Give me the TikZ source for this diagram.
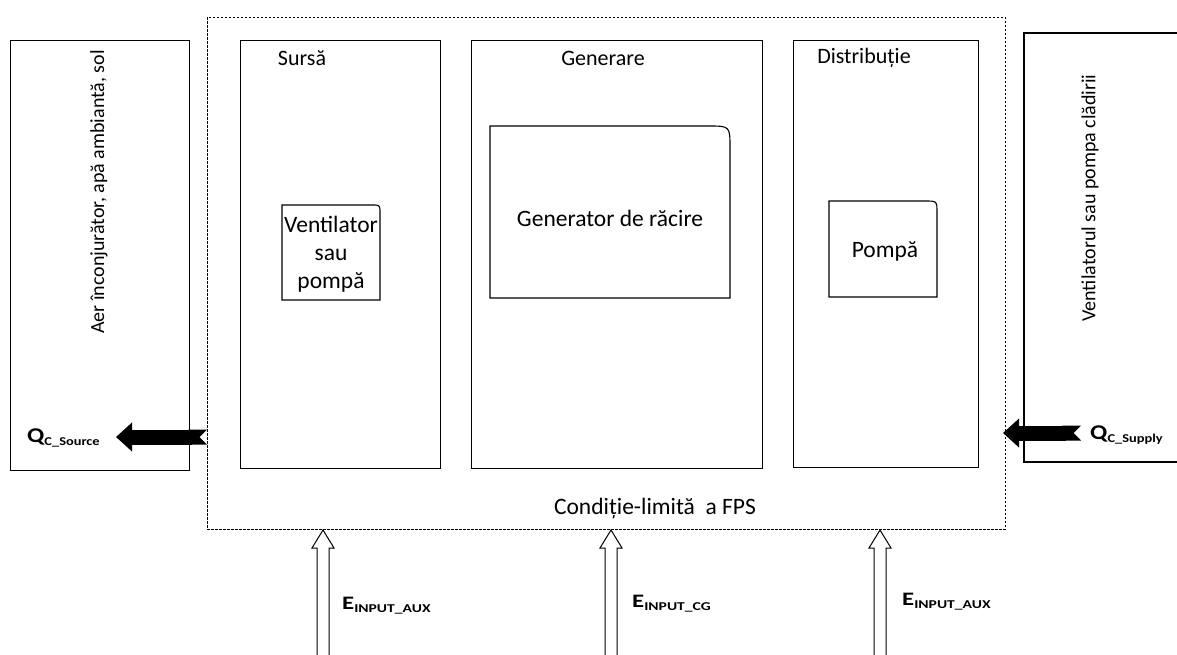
\documentclass[tikz,border=0pt]{standalone}
\usepackage{fontspec}
\setmainfont{Carlito}
\usetikzlibrary{arrows.meta,calc}
\begin{document}
\begin{tikzpicture}[x=1pt,y=-1pt,
  box/.style={draw, line width=1.1pt, inner sep=0pt, anchor=north west},
  fpsbox/.style={draw, line width=0.9pt, dash pattern=on 2.5pt off 1.5pt, inner sep=0pt, anchor=north west},
  snip/.style={draw, line width=1.1pt},
  txt/.style={font=\fontsize{22}{26}\selectfont, inner sep=0pt},
  btxt/.style={font=\fontsize{23.5}{28}\selectfont, inner sep=0pt},
  vtxt/.style={font=\fontsize{20}{24}\selectfont, inner sep=0pt, rotate=90},
  bigarrow/.style={line width=15pt, {Triangle Cap[reversed]}-{Triangle[width=28pt,length=16pt]}},
  hollow/.style={draw, line width=1pt, fill=white},
  qlbl/.style={inner sep=0pt, font=\bfseries},
  elbl/.style={inner sep=0pt, anchor=west, font=\bfseries}
]
\useasboundingbox (0,0) rectangle (1177,655);
\fill[white] (0,0) rectangle (1177,655);

% outer boxes
\node[box, minimum width=179pt, minimum height=430pt] (env) at (10,40) {};
\node[fpsbox, minimum width=798pt, minimum height=512pt] (fps) at (207,17) {};
\node[box, minimum width=200pt, minimum height=428pt] (src) at (240,40) {};
\node[box, minimum width=291pt, minimum height=428pt] (gen) at (471,40) {};
\node[box, minimum width=185pt, minimum height=427pt] (dist) at (793,40) {};
\coordinate (bld) at (1024,33);
\draw[line width=1.1pt] (1180,33) -- (bld) -- (1024,462) -- (1180,462);

% section titles
\node[txt] (tsrc) at (302,58) {Sursă};
\node[txt] (tgen) at (603,58) {Generare};
\node[txt] (tdist) at (864,58) {Distribuție};
\node[btxt] (tfps) at (655,508) {Condiție-limită \ a FPS};

% vertical texts
\node[vtxt] (tenv) at (99,192) {Aer înconjurător, apă ambiantă, sol};
\node[vtxt] (tbld) at (1090,198) {Ventilatorul sau pompa clădirii};

% inner component boxes with rounded top-right corner
\draw[snip] (282,300) -- (282,205) -- (372,205) .. controls (380,205) .. (380,213) -- (380,300) -- cycle;
\node[btxt, align=center, font=\fontsize{23.5}{28}\selectfont] (vent) at (331,254) {Ventilator\\sau\\pompă};

\draw[snip] (490,298) -- (490,126) -- (708,126) .. controls (730,126) .. (730,148) -- (730,298) -- cycle;
\node[btxt] (cool) at (610,218) {Generator de răcire};

\draw[snip] (829,297) -- (829,201) -- (925,201) .. controls (937,201) .. (937,213) -- (937,297) -- cycle;
\node[btxt] (pump) at (885,251) {Pompă};

% black heat arrows
\coordinate (qsA) at (207,437);
\coordinate (qsB) at (116,437);
\draw[bigarrow] (qsA) -- (qsB);
\node[qlbl, anchor=west] (qsl) at (27,438) {\scalebox{1.2}[1]{{\fontsize{21}{24}\selectfont Q}{\fontsize{12}{14}\selectfont\raisebox{-3.5pt}{C\_Source}}}};

\coordinate (quA) at (1081,433);
\coordinate (quB) at (1003,433);
\draw[bigarrow] (quA) -- (quB);
\node[qlbl, anchor=west] (qul) at (1090,435) {\scalebox{1.2}[1]{{\fontsize{21}{24}\selectfont Q}{\fontsize{12}{14}\selectfont\raisebox{-3.5pt}{C\_Supply}}}};

% hollow energy input arrows
\foreach \n/\x in {a/323,b/611,c/880}{
  \coordinate (e\n top) at (\x,530);
  \coordinate (e\n bot) at (\x,660);
  \draw[hollow] ($(e\n bot)+(-6,0)$) -- ($(e\n top)+(-6,18)$) -- ($(e\n top)+(-11,18)$) -- (e\n top)
     -- ($(e\n top)+(11,18)$) -- ($(e\n top)+(6,18)$) -- ($(e\n bot)+(6,0)$);
}
\node[elbl] (ela) at (342,606) {\scalebox{1.3}[1]{{\fontsize{19}{22}\selectfont E}{\fontsize{12}{14}\selectfont\raisebox{-3pt}{INPUT\_AUX}}}};
\node[elbl] (elb) at (632,604) {\scalebox{1.3}[1]{{\fontsize{19}{22}\selectfont E}{\fontsize{12}{14}\selectfont\raisebox{-3pt}{INPUT\_CG}}}};
\node[elbl] (elc) at (902,602) {\scalebox{1.3}[1]{{\fontsize{19}{22}\selectfont E}{\fontsize{12}{14}\selectfont\raisebox{-3pt}{INPUT\_AUX}}}};
\end{tikzpicture}
\end{document}
